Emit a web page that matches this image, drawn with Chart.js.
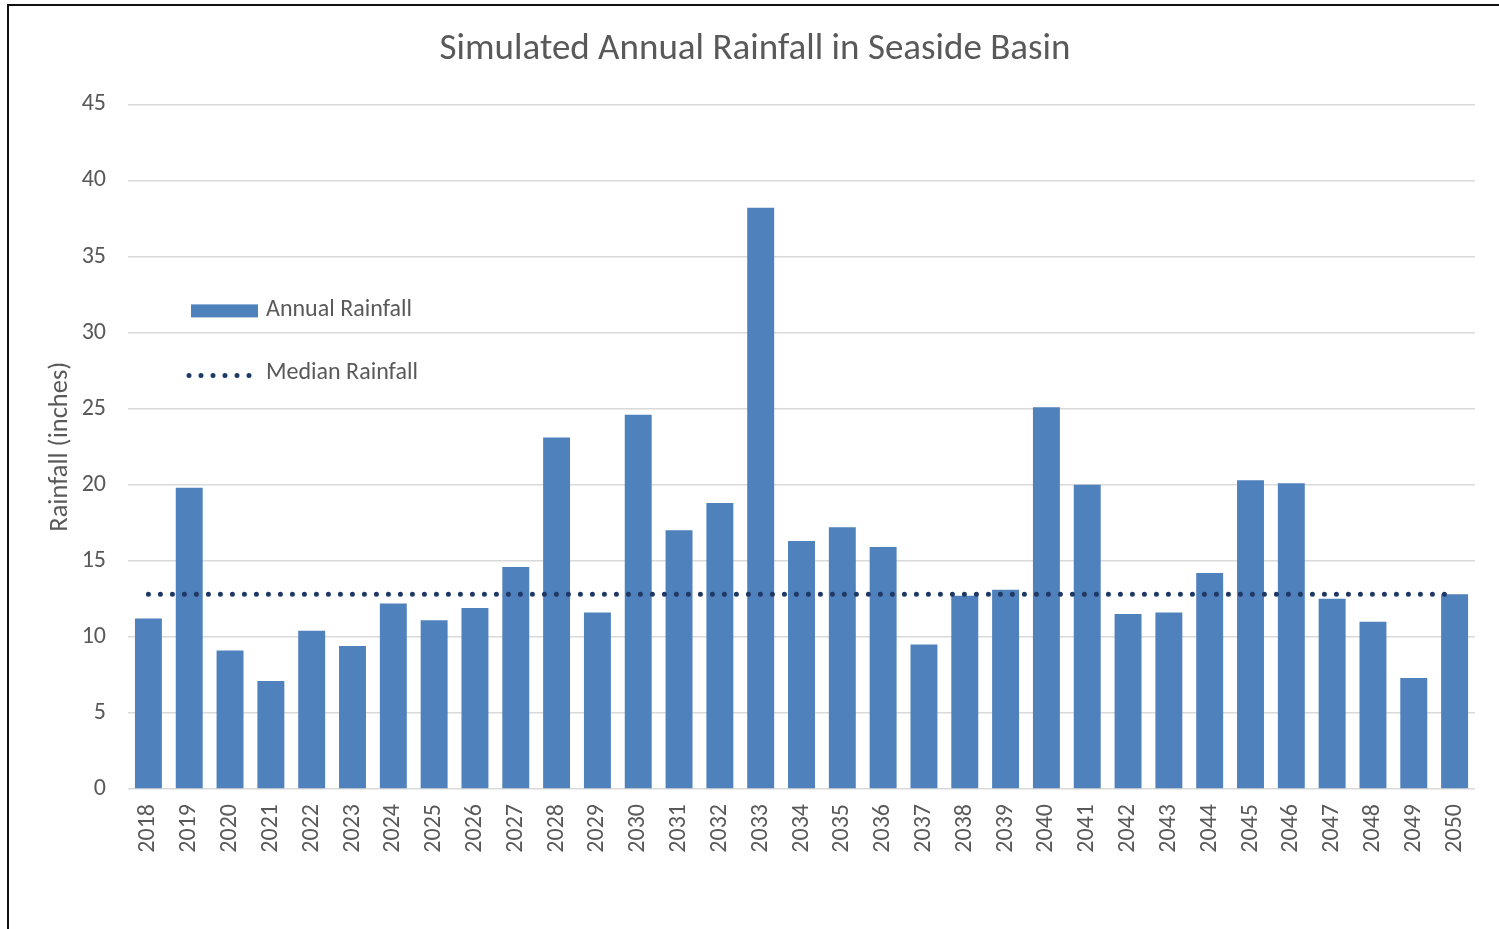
<!DOCTYPE html>
<html><head><meta charset="utf-8">
<script src="https://cdn.jsdelivr.net/npm/chart.js@4/dist/chart.umd.min.js"></script>
<style>
html,body{margin:0;padding:0;background:#fff;overflow:hidden}
#wrap{position:absolute;left:0;top:0;width:1499px;height:929px}
#frame{position:absolute;left:7px;top:4px;width:1600px;height:1000px;border-top:2px solid #111;border-left:2px solid #111;pointer-events:none}
</style></head><body>
<div id="wrap"><canvas id="c" width="1499" height="929"></canvas></div>
<div id="frame"></div>
<script>
const chartTitle = 'Simulated Annual Rainfall in Seaside Basin';
const yAxisTitle = 'Rainfall (inches)';
const years = ['2018','2019','2020','2021','2022','2023','2024','2025','2026','2027','2028',
  '2029','2030','2031','2032','2033','2034','2035','2036','2037','2038','2039','2040',
  '2041','2042','2043','2044','2045','2046','2047','2048','2049','2050'];
const annualRainfall = [11.2, 19.8, 9.1, 7.1, 10.4, 9.4, 12.2, 11.1, 11.9, 14.6, 23.1,
  11.6, 24.6, 17.0, 18.8, 38.2, 16.3, 17.2, 15.9, 9.5, 12.7, 13.1, 25.1,
  20.0, 11.5, 11.6, 14.2, 20.3, 20.1, 12.5, 11.0, 7.3, 12.8];
const medianRainfall = 12.8;
const yTicks = [0, 5, 10, 15, 20, 25, 30, 35, 40, 45];

const FONT = 'Carlito, Calibri, Lato, sans-serif';
const TXT = '#595959';
const BAR = '#4f81bd';
const MED = '#1f3864';

const legendPlugin = {
  id: 'inLegend',
  afterDraw(chart) {
    const {ctx, chartArea} = chart;
    const x0 = chartArea.left + 63;
    const y0 = chartArea.top + 200;
    ctx.save();
    ctx.font = '24px ' + FONT;
    ctx.textBaseline = 'middle';
    const bar = chart.data.datasets[1];
    ctx.fillStyle = bar.backgroundColor;
    ctx.fillRect(x0, y0, 67, 13);
    ctx.fillStyle = TXT;
    ctx.fillText(bar.label, x0 + 75, y0 + 6);
    const ln = chart.data.datasets[0];
    ctx.strokeStyle = ln.borderColor;
    ctx.lineWidth = ln.borderWidth;
    ctx.lineCap = 'round';
    ctx.setLineDash(ln.borderDash);
    ctx.beginPath();
    ctx.moveTo(x0 - 2, y0 + 71);
    ctx.lineTo(x0 + 62, y0 + 71);
    ctx.stroke();
    ctx.setLineDash([]);
    ctx.fillText(ln.label, x0 + 75, y0 + 69);
    ctx.restore();
  }
};

new Chart(document.getElementById('c'), {
  data: {
    labels: years,
    datasets: [
      {
        type: 'line',
        label: 'Median Rainfall',
        data: years.map(() => medianRainfall),
        borderColor: MED,
        borderWidth: 5,
        borderDash: [0, 12],
        borderCapStyle: 'round',
        pointRadius: 0,
        fill: false,
        order: 0
      },
      {
        type: 'bar',
        label: 'Annual Rainfall',
        data: annualRainfall,
        backgroundColor: BAR,
        borderWidth: 0,
        categoryPercentage: 0.66,
        barPercentage: 1,
        order: 1
      }
    ]
  },
  options: {
    responsive: false,
    animation: false,
    devicePixelRatio: 1,
    layout: { padding: { left: 35, right: 24, top: 0, bottom: 0 } },
    plugins: {
      legend: { display: false },
      tooltip: { enabled: false },
      title: {
        display: true,
        text: chartTitle,
        color: TXT,
        font: { family: FONT, size: 37, weight: 'normal' },
        padding: { top: 28, bottom: 32 }
      }
    },
    scales: {
      x: {
        grid: { display: false, drawTicks: false },
        border: { display: false },
        ticks: {
          color: TXT,
          font: { family: FONT, size: 24 },
          minRotation: 90,
          maxRotation: 90,
          padding: 15,
          autoSkip: false
        },
        afterFit(s) { s.height = 140; }
      },
      y: {
        min: 0,
        max: 45,
        afterBuildTicks(s) { s.ticks = yTicks.map(v => ({ value: v })); },
        grid: { color: '#d9d9d9', lineWidth: 1.5, drawTicks: false },
        border: { display: false },
        ticks: {
          color: TXT,
          font: { family: FONT, size: 24 },
          padding: 22
        },
        title: {
          display: true,
          text: yAxisTitle,
          color: TXT,
          font: { family: FONT, size: 26.5, weight: 'normal' },
          padding: { top: 9, bottom: 0 }
        },
        afterFit(s) { s.width = 93; }
      }
    }
  },
  plugins: [legendPlugin]
});
</script>
</body></html>
